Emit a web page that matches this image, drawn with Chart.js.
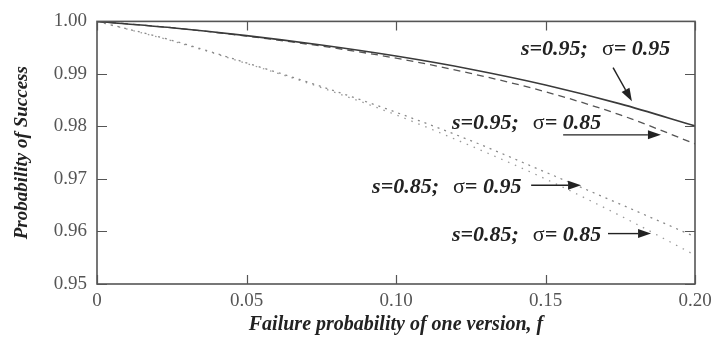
<!DOCTYPE html>
<html>
<head>
<meta charset="utf-8">
<script src="https://cdn.jsdelivr.net/npm/chart.js@4/dist/chart.umd.min.js"></script>
<style>
html,body{margin:0;padding:0;background:#fff;}
#wrap{width:718px;height:339px;}
</style>
</head>
<body>
<div id="wrap"><canvas id="c" width="718" height="339"></canvas></div>
<script>
// ---- data ----
const fValues = [0, 0.025, 0.05, 0.075, 0.10, 0.125, 0.15, 0.175, 0.20];
const s95sig95 = [1.0, 0.9988, 0.9973, 0.9955, 0.9934, 0.9909, 0.9879, 0.9843, 0.9801];
const s95sig85 = [1.0, 0.9988, 0.9972, 0.9953, 0.9930, 0.9901, 0.9866, 0.9822, 0.9767];
const s85sig95 = [1.0, 0.9964, 0.9921, 0.9876, 0.9827, 0.9773, 0.9713, 0.9652, 0.9590];
const s85sig85 = [1.0, 0.9963, 0.9920, 0.9874, 0.9822, 0.9763, 0.9700, 0.9630, 0.9555];
const xTicks = [0, 0.05, 0.10, 0.15, 0.20];
const yTicks = [0.95, 0.96, 0.97, 0.98, 0.99, 1.00];
const xTitle = "Failure probability of one version, f";
const yTitle = "Probability of Success";
// annotation labels: s-part, sigma value, label position (f, P), arrow from / to (f, P)
const labelS = ["s=0.95;", "s=0.95;", "s=0.85;", "s=0.85;"];
const labelSigma = ["0.95", "0.85", "0.95", "0.85"];
const labelAt = [[0.1418, 0.99474], [0.1187, 0.98064], [0.0920, 0.96842], [0.1187, 0.95921]];
const arrowFrom = [[0.1726, 0.9912], [0.1559, 0.9784], [0.1452, 0.9688], [0.1709, 0.9596]];
const arrowTo = [[0.1789, 0.9848], [0.1886, 0.9784], [0.1619, 0.9688], [0.1853, 0.9596]];

const toPts = arr => arr.map((v, i) => ({x: fValues[i], y: v}));

const decor = {
  id: 'decor',
  afterDraw(chart) {
    const ctx = chart.ctx, a = chart.chartArea;
    const xs = chart.scales.x, ys = chart.scales.y;
    ctx.save();
    // frame
    ctx.strokeStyle = '#555';
    ctx.lineWidth = 1.6;
    ctx.strokeRect(a.left, a.top, a.right - a.left, a.bottom - a.top);
    // inward ticks
    ctx.lineWidth = 1.2;
    ctx.beginPath();
    xTicks.forEach(t => {
      const px = Math.round(xs.getPixelForValue(t)) + 0.5;
      ctx.moveTo(px, a.bottom); ctx.lineTo(px, a.bottom - 9);
      ctx.moveTo(px, a.top); ctx.lineTo(px, a.top + 9);
    });
    yTicks.forEach(t => {
      const py = Math.round(ys.getPixelForValue(t)) + 0.5;
      ctx.moveTo(a.left, py); ctx.lineTo(a.left + 10, py);
      ctx.moveTo(a.right, py); ctx.lineTo(a.right - 10, py);
    });
    ctx.stroke();

    // axis titles
    ctx.fillStyle = '#222';
    ctx.textAlign = 'center';
    ctx.textBaseline = 'middle';
    ctx.font = 'italic bold 20px "Liberation Serif"';
    ctx.fillText(xTitle, (a.left + a.right) / 2, 325);
    ctx.save();
    ctx.font = 'italic bold 19px "Liberation Serif"';
    ctx.translate(22, (a.top + a.bottom) / 2);
    ctx.rotate(-Math.PI / 2);
    ctx.fillText(yTitle, 0, 0);
    ctx.restore();

    // annotations
    ctx.textAlign = 'left';
    ctx.textBaseline = 'middle';
    for (let i = 0; i < labelS.length; i++) {
      let x = xs.getPixelForValue(labelAt[i][0]);
      const y = ys.getPixelForValue(labelAt[i][1]);
      ctx.fillStyle = '#222';
      ctx.font = 'italic bold 22px "Liberation Serif"';
      ctx.fillText(labelS[i], x, y);
      x += ctx.measureText(labelS[i]).width + 14;
      ctx.font = '22px "Liberation Serif"';
      ctx.fillText('\u03c3', x, y);
      x += ctx.measureText('\u03c3').width;
      ctx.font = 'italic bold 22px "Liberation Serif"';
      ctx.fillText('= ' + labelSigma[i], x, y);

      // arrow
      const x1 = xs.getPixelForValue(arrowFrom[i][0]), y1 = ys.getPixelForValue(arrowFrom[i][1]);
      const x2 = xs.getPixelForValue(arrowTo[i][0]), y2 = ys.getPixelForValue(arrowTo[i][1]);
      const ang = Math.atan2(y2 - y1, x2 - x1);
      const hl = 13, hw = 4.5;
      ctx.strokeStyle = '#222';
      ctx.lineWidth = 1.4;
      ctx.beginPath();
      ctx.moveTo(x1, y1);
      ctx.lineTo(x2 - hl * Math.cos(ang), y2 - hl * Math.sin(ang));
      ctx.stroke();
      ctx.beginPath();
      ctx.moveTo(x2, y2);
      ctx.lineTo(x2 - hl * Math.cos(ang) + hw * Math.sin(ang), y2 - hl * Math.sin(ang) - hw * Math.cos(ang));
      ctx.lineTo(x2 - hl * Math.cos(ang) - hw * Math.sin(ang), y2 - hl * Math.sin(ang) + hw * Math.cos(ang));
      ctx.closePath();
      ctx.fill();
    }
    ctx.restore();
  }
};

new Chart(document.getElementById('c'), {
  type: 'line',
  data: {
    datasets: [
      {label: 's=0.95; σ=0.95', data: toPts(s95sig95), borderColor: '#3a3a3a', borderWidth: 1.6, pointRadius: 0, tension: 0.4, cubicInterpolationMode: 'monotone'},
      {label: 's=0.95; σ=0.85', data: toPts(s95sig85), borderColor: '#555', borderWidth: 1.3, borderDash: [7, 5], pointRadius: 0, tension: 0.4, cubicInterpolationMode: 'monotone'},
      {label: 's=0.85; σ=0.95', data: toPts(s85sig95), borderColor: '#8a8a8a', borderWidth: 1.3, borderDash: [2, 5], pointRadius: 0, tension: 0.4, cubicInterpolationMode: 'monotone'},
      {label: 's=0.85; σ=0.85', data: toPts(s85sig85), borderColor: '#9a9a9a', borderWidth: 1.3, borderDash: [1.5, 6], pointRadius: 0, tension: 0.4, cubicInterpolationMode: 'monotone'}
    ]
  },
  options: {
    responsive: false,
    animation: false,
    layout: {padding: {left: 0, right: 23, top: 18, bottom: 0}},
    plugins: {legend: {display: false}, tooltip: {enabled: false}},
    scales: {
      x: {
        type: 'linear', min: 0, max: 0.2,
        afterBuildTicks: s => { s.ticks = xTicks.map(v => ({value: v})); },
        ticks: {callback: v => v === 0 ? '0' : v.toFixed(2), color: '#555', font: {family: 'Liberation Serif', size: 19}, padding: 6, maxRotation: 0, autoSkip: false},
        grid: {display: false, drawTicks: false},
        border: {display: false},
        afterFit: s => { s.height = 55; }
      },
      y: {
        type: 'linear', min: 0.95, max: 1.0,
        afterBuildTicks: s => { s.ticks = yTicks.map(v => ({value: v})); },
        ticks: {callback: v => v.toFixed(2), color: '#555', font: {family: 'Liberation Serif', size: 19}, padding: 10, autoSkip: false},
        grid: {display: false, drawTicks: false},
        border: {display: false},
        afterFit: s => { s.width = 97; }
      }
    }
  },
  plugins: [decor]
});
</script>
</body>
</html>
